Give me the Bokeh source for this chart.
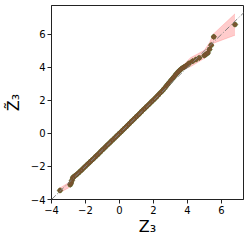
from bokeh.plotting import figure
from bokeh.models import ColumnDataSource, FixedTicker, Slope, Range1d
from bokeh.embed import file_html
from bokeh.resources import INLINE

# theoretical quantiles (Z3) and sample quantiles (Z3 tilde)
theo = [-3.5, -2.9, -2.85, -2.8, -2.75, -2.7,
        -2.6, -2.5, -2.4, -2.3, -2.2, -2.1, -2.0, -1.9, -1.8, -1.7,
        -1.6, -1.5, -1.4, -1.3, -1.2, -1.1, -1.0, -0.9, -0.8, -0.7,
        -0.6, -0.5, -0.4, -0.3, -0.2, -0.1, 0.0, 0.1, 0.2, 0.3,
        0.4, 0.5, 0.6, 0.7, 0.8, 0.9, 1.0, 1.1, 1.2, 1.3,
        1.4, 1.5, 1.6, 1.7, 1.8, 1.9, 2.0, 2.1, 2.2, 2.3,
        2.4, 2.5, 2.6, 2.7, 2.8, 2.9, 3.0, 3.1, 3.2, 3.3,
        3.4, 3.5, 3.6, 3.7, 3.8, 3.9,
        4.0, 4.1, 4.3, 4.5, 4.7, 5.0, 5.1, 5.2, 5.3, 5.4, 5.55, 6.8]
sample = [-3.45, -3.1, -3.0, -2.85, -2.7, -2.62,
          -2.55, -2.47, -2.38, -2.28, -2.19, -2.08, -1.98, -1.88, -1.79, -1.69,
          -1.6, -1.5, -1.39, -1.3, -1.2, -1.09, -0.99, -0.89, -0.79, -0.69,
          -0.59, -0.49, -0.39, -0.29, -0.19, -0.09, 0.01, 0.11, 0.21, 0.31,
          0.41, 0.51, 0.62, 0.72, 0.82, 0.92, 1.02, 1.12, 1.22, 1.33,
          1.43, 1.53, 1.63, 1.73, 1.83, 1.93, 2.03, 2.13, 2.24, 2.35,
          2.45, 2.56, 2.68, 2.8, 2.93, 3.05, 3.18, 3.3, 3.42, 3.55,
          3.67, 3.78, 3.88, 3.96, 4.02, 4.08,
          4.15, 4.25, 4.38, 4.48, 4.58, 4.72, 4.8, 4.88, 5.1, 5.35, 5.85, 6.6]

# confidence band
band_x = [-3.6, -3.5, -3.0, -2.8, -2.6, -2.0, 0.0, 2.0, 3.0, 3.6, 3.9, 4.2, 4.6, 5.0, 5.3, 5.5, 6.8]
band_lo = [-3.62, -3.58, -3.3, -3.12, -2.7, -2.08, -0.05, 1.98, 3.08, 3.75, 3.92, 4.05, 4.3, 4.55, 4.95, 5.45, 5.95]
band_hi = [-3.35, -3.3, -2.98, -2.82, -2.45, -1.92, 0.08, 2.1, 3.3, 3.97, 4.3, 4.6, 4.82, 5.05, 5.5, 6.0, 7.25]

x_ticks = [-4, -2, 0, 2, 4, 6]
y_ticks = [-4, -2, 0, 2, 4, 6]

FONT = "DejaVu Sans"

p = figure(width=248, height=238, output_backend="svg", toolbar_location=None,
           x_range=Range1d(-4, 7.3), y_range=Range1d(-4, 7.75),
           min_border_left=43, min_border_right=5, min_border_top=5, min_border_bottom=36)
p.background_fill_color = "white"
p.border_fill_color = "white"
p.outline_line_color = "#222222"
p.outline_line_width = 1
p.xgrid.visible = False
p.ygrid.visible = False

band = ColumnDataSource(dict(x=band_x, lo=band_lo, hi=band_hi))
p.varea(x="x", y1="lo", y2="hi", source=band, fill_color="red", fill_alpha=0.2)
p.line(x="x", y="lo", source=band, line_color="red", line_alpha=0.15, line_width=1)
p.line(x="x", y="hi", source=band, line_color="red", line_alpha=0.15, line_width=1)

p.add_layout(Slope(gradient=1, y_intercept=0, line_color="gray", line_width=1,
                   line_dash="6 2 1 2"))

src = ColumnDataSource(dict(x=theo, y=sample))
p.scatter(x="x", y="y", source=src, marker="circle", size=5,
          fill_color="#4a8a30", line_color=None, fill_alpha=0.9)
p.scatter(x="x", y="y", source=src, marker="square", size=4,
          fill_color="#7a5530", line_color="#6d4a28", line_width=0.5, angle=0.785)

for ax, ticks in ((p.xaxis[0], x_ticks), (p.yaxis[0], y_ticks)):
    ax.ticker = FixedTicker(ticks=ticks)
    ax.minor_tick_line_color = None
    ax.major_tick_in = 0
    ax.major_tick_out = 4
    ax.major_tick_line_color = "#222222"
    ax.axis_line_color = "#222222"
    ax.major_label_text_font = FONT
    ax.major_label_text_font_size = "10px"
    ax.major_label_text_color = "black"
    ax.axis_label_text_font = FONT
    ax.axis_label_text_font_style = "normal"
    ax.axis_label_text_font_size = "16px"
    ax.axis_label_text_color = "black"
    ax.major_label_standoff = 2

p.xaxis.axis_label_standoff = 0
p.yaxis.axis_label_standoff = 5
p.xaxis.axis_label = "Z\u2083"
p.yaxis.axis_label = "Z\u0303\u2083"

open("out.html", "w").write(file_html(p, INLINE))
